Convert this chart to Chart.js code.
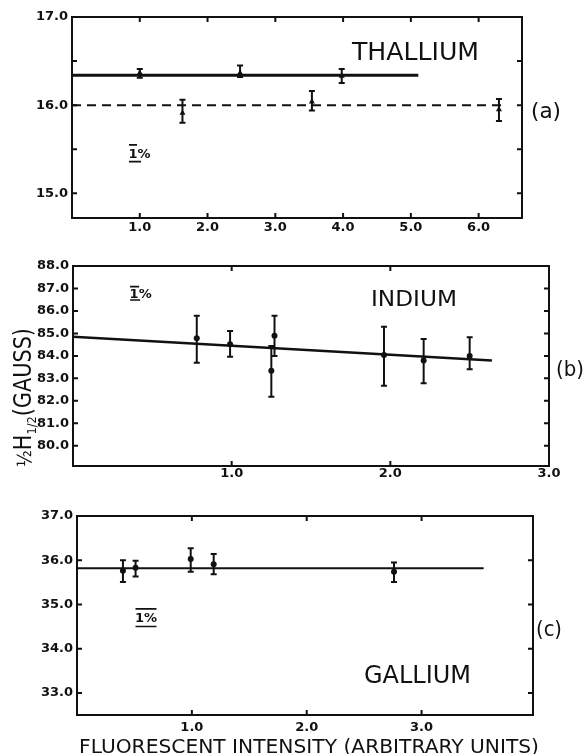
<!DOCTYPE html>
<html>
<head>
<meta charset="utf-8">
<script src="https://cdn.jsdelivr.net/npm/chart.js@4.4.0/dist/chart.umd.min.js"></script>
<style>
  html, body { margin: 0; padding: 0; background: #fff; }
  #wrap { position: relative; width: 586px; height: 754px; }
  canvas { position: absolute; left: 0; top: 0; }
</style>
</head>
<body>
<div id="wrap">
  <canvas id="chartA" width="586" height="754"></canvas>
  <canvas id="chartB" width="586" height="754"></canvas>
  <canvas id="chartC" width="586" height="754"></canvas>
</div>
<script>
// ---- (a) thallium ----
var tlXTicks = [1, 2, 3, 4, 5, 6];
var tlXLabels = ['1.0', '2.0', '3.0', '4.0', '5.0', '6.0'];
var tlYTicks = [15.0, 15.5, 16.0, 16.5, 17.0];
var tlYLabels = ['15.0', '', '16.0', '', '17.0'];
var tlUpperX = [1.0, 2.48, 3.98];
var tlUpperY = [16.365, 16.365, 16.33];
var tlUpperLo = [16.31, 16.32, 16.25];
var tlUpperHi = [16.41, 16.45, 16.41];
var tlLowerX = [1.63, 3.54, 6.30];
var tlLowerY = [15.91, 16.04, 15.95];
var tlLowerLo = [15.80, 15.94, 15.82];
var tlLowerHi = [16.06, 16.16, 16.07];
var tlUpperFitX = [0, 5.11];
var tlUpperFitY = [16.34, 16.34];
var tlLowerFitX = [0, 6.34];
var tlLowerFitY = [16.0, 16.0];

// ---- (b) indium ----
var inXTicks = [1, 2, 3];
var inXLabels = ['1.0', '2.0', '3.0'];
var inYTicks = [80, 81, 82, 83, 84, 85, 86, 87, 88];
var inYLabels = ['80.0', '81.0', '82.0', '83.0', '84.0', '85.0', '86.0', '87.0', '88.0'];
var inX = [0.78, 0.99, 1.25, 1.27, 1.96, 2.21, 2.50];
var inY = [84.78, 84.52, 83.34, 84.90, 84.04, 83.79, 83.99];
var inLo = [83.70, 83.96, 82.18, 83.99, 82.67, 82.78, 83.40];
var inHi = [85.79, 85.11, 84.44, 85.79, 85.30, 84.75, 84.83];
var inFitX = [0, 2.64];
var inFitY = [84.85, 83.79];

// ---- (c) gallium ----
var gaXTicks = [1, 2, 3];
var gaXLabels = ['1.0', '2.0', '3.0'];
var gaYTicks = [33, 34, 35, 36, 37];
var gaYLabels = ['33.0', '34.0', '35.0', '36.0', '37.0'];
var gaX = [0.40, 0.51, 0.99, 1.19, 2.76];
var gaY = [35.76, 35.83, 36.03, 35.91, 35.74];
var gaLo = [35.51, 35.63, 35.74, 35.68, 35.51];
var gaHi = [36.00, 35.99, 36.27, 36.14, 35.95];
var gaFitX = [0, 3.54];
var gaFitY = [35.82, 35.82];

// 1% scale marks (a, b, c)
var pctX = [0.90, 0.385, 0.544];
var pctLo = [15.36, 86.49, 34.50];
var pctHi = [15.55, 87.08, 34.90];

var INK = '#111';
var FONT = '"DejaVu Sans", "Liberation Sans", sans-serif';

function pts(xs, ys) {
  return xs.map(function (x, i) { return { x: x, y: ys[i] }; });
}

// text squeezed/stretched to the width it has in the figure
function fitText(ctx, text, cx, cy, w, size, weight) {
  ctx.font = (weight || 'normal') + ' ' + size + 'px ' + FONT;
  var m = ctx.measureText(text).width;
  ctx.save();
  ctx.translate(cx, cy + size * 0.365);
  ctx.scale(w / m, 1);
  ctx.textAlign = 'center';
  ctx.textBaseline = 'alphabetic';
  ctx.fillText(text, 0, 0);
  ctx.restore();
}

var errorBars = {
  id: 'errorBars',
  beforeDatasetsDraw: function (chart) {
    var ctx = chart.ctx, x = chart.scales.x, y = chart.scales.y;
    ctx.save();
    ctx.strokeStyle = INK;
    ctx.lineWidth = 2;
    chart.data.datasets.forEach(function (ds) {
      if (!ds.errLo) return;
      ds.data.forEach(function (p, j) {
        var px = x.getPixelForValue(p.x);
        var yl = y.getPixelForValue(ds.errLo[j]);
        var yh = y.getPixelForValue(ds.errHi[j]);
        ctx.beginPath();
        ctx.moveTo(px, yl); ctx.lineTo(px, yh);
        ctx.moveTo(px - 3, yl); ctx.lineTo(px + 3, yl);
        ctx.moveTo(px - 3, yh); ctx.lineTo(px + 3, yh);
        ctx.stroke();
      });
    });
    ctx.restore();
  }
};

var frame = {
  id: 'frame',
  afterDraw: function (chart, args, opts) {
    var ctx = chart.ctx, a = chart.chartArea, x = chart.scales.x, y = chart.scales.y;
    ctx.save();
    ctx.strokeStyle = INK;
    ctx.fillStyle = INK;
    ctx.lineWidth = 2;
    ctx.strokeRect(a.left, a.top, a.right - a.left, a.bottom - a.top);
    // inward ticks on all four sides
    ctx.beginPath();
    x.ticks.forEach(function (t) {
      var px = x.getPixelForValue(t.value);
      ctx.moveTo(px, a.bottom); ctx.lineTo(px, a.bottom - 5);
      ctx.moveTo(px, a.top); ctx.lineTo(px, a.top + 5);
    });
    y.ticks.forEach(function (t) {
      var py = y.getPixelForValue(t.value);
      ctx.moveTo(a.left, py); ctx.lineTo(a.left + 5, py);
      ctx.moveTo(a.right, py); ctx.lineTo(a.right - 5, py);
    });
    ctx.stroke();

    // 1% scale mark
    var p = opts.pct;
    if (p) {
      var px = x.getPixelForValue(p.x);
      var yl = y.getPixelForValue(p.lo), yh = y.getPixelForValue(p.hi);
      ctx.lineWidth = 1.6;
      ctx.beginPath();
      ctx.moveTo(px + p.over[0], yh); ctx.lineTo(px + p.over[1], yh);
      ctx.moveTo(px + p.under[0], yl); ctx.lineTo(px + p.under[1], yl);
      ctx.stroke();
      ctx.font = 'bold 13px ' + FONT;
      ctx.textAlign = 'left';
      ctx.textBaseline = 'alphabetic';
      ctx.fillText('1%', px - 4.5, (yl + yh) / 2 + 4.7);
    }

    (opts.texts || []).forEach(function (t) {
      fitText(ctx, t.text, t.cx, t.cy, t.w, t.size, t.weight);
    });
    if (opts.after) opts.after(ctx);
    ctx.restore();
  }
};

function makeChart(id, cfg) {
  var tickFont = { family: FONT, weight: 'bold', size: 13 };
  return new Chart(document.getElementById(id), {
    type: 'scatter',
    data: { datasets: cfg.datasets },
    plugins: [errorBars, frame],
    options: {
      responsive: false,
      animation: false,
      events: [],
      layout: { padding: cfg.padding },
      plugins: {
        legend: { display: false },
        tooltip: { enabled: false },
        frame: { pct: cfg.pct, texts: cfg.texts, after: cfg.after }
      },
      scales: {
        x: {
          type: 'linear',
          min: cfg.xMin, max: cfg.xMax,
          grid: { display: false, drawTicks: false },
          border: { display: false },
          afterBuildTicks: function (s) { s.ticks = cfg.xTicks.map(function (v) { return { value: v }; }); },
          afterFit: function (s) { s.height = 30; },
          ticks: {
            padding: cfg.xPad, color: INK, font: tickFont,
            maxRotation: 0, autoSkip: false,
            callback: function (v, i) { return cfg.xLabels[i]; }
          }
        },
        y: {
          type: 'linear',
          min: cfg.yMin, max: cfg.yMax,
          grid: { display: false, drawTicks: false },
          border: { display: false },
          afterBuildTicks: function (s) { s.ticks = cfg.yTicks.map(function (v) { return { value: v }; }); },
          afterFit: function (s) { s.width = cfg.yWidth; },
          ticks: {
            padding: 4, color: INK, font: tickFont, autoSkip: false,
            callback: function (v, i) { return cfg.yLabels[i]; }
          }
        }
      }
    }
  });
}

function fitLine(xs, ys, width, dash) {
  return {
    data: pts(xs, ys), showLine: true, pointRadius: 0,
    borderColor: INK, borderWidth: width, borderDash: dash || [], fill: false
  };
}

function points(xs, ys, lo, hi, style, r) {
  return {
    data: pts(xs, ys), errLo: lo, errHi: hi, showLine: false,
    pointStyle: style, pointRadius: r, backgroundColor: INK, borderColor: INK, borderWidth: 0
  };
}

// (a) chart area 72..522 x 17..218
makeChart('chartA', {
  xMin: 0, xMax: 6.64, yMin: 14.72, yMax: 17.0,
  xTicks: tlXTicks, xLabels: tlXLabels, yTicks: tlYTicks, yLabels: tlYLabels,
  yWidth: 72, xPad: 2,
  padding: { left: 0, right: 64, top: 17, bottom: 754 - 218 - 30 },
  datasets: [
    fitLine(tlUpperFitX, tlUpperFitY, 3),
    fitLine(tlLowerFitX, tlLowerFitY, 2, [9, 6]),
    points(tlUpperX, tlUpperY, tlUpperLo, tlUpperHi, 'triangle', 3.5),
    points(tlLowerX, tlLowerY, tlLowerLo, tlLowerHi, 'triangle', 3.5)
  ],
  pct: { x: pctX[0], lo: pctLo[0], hi: pctHi[0], over: [-4, 4], under: [-4, 8] },
  texts: [
    { text: 'THALLIUM', cx: 415.5, cy: 51, w: 127, size: 24 },
    { text: '(a)', cx: 546, cy: 110, w: 30, size: 22 }
  ]
});

// (b) chart area 73..549 x 266..466
makeChart('chartB', {
  xMin: 0, xMax: 3.0, yMin: 79.1, yMax: 88.0,
  xTicks: inXTicks, xLabels: inXLabels, yTicks: inYTicks, yLabels: inYLabels,
  yWidth: 73, xPad: 0,
  padding: { left: 0, right: 37, top: 266, bottom: 754 - 466 - 30 },
  datasets: [
    fitLine(inFitX, inFitY, 2.5),
    points(inX, inY, inLo, inHi, 'circle', 3)
  ],
  pct: { x: pctX[1], lo: pctLo[1], hi: pctHi[1], over: [-4, 5], under: [-4, 6] },
  texts: [
    { text: 'INDIUM', cx: 414, cy: 298, w: 86, size: 22 },
    { text: '(b)', cx: 570, cy: 367.5, w: 28, size: 22 }
  ],
  after: function (ctx) {
    // rotated y-axis title: ½H1/2 (GAUSS)
    var parts = [
      { t: '\u00BD', size: 20, dy: 0 },
      { t: 'H', size: 24, dy: 0 },
      { t: '1/2', size: 13, dy: 5 },
      { t: '(GAUSS)', size: 24, dy: 0 }
    ];
    var total = 0;
    parts.forEach(function (p) {
      ctx.font = p.size + 'px ' + FONT;
      p.w = ctx.measureText(p.t).width;
      total += p.w;
    });
    ctx.save();
    ctx.translate(31, 467);
    ctx.rotate(-Math.PI / 2);
    ctx.scale(139 / total, 1);
    ctx.textAlign = 'left';
    ctx.textBaseline = 'alphabetic';
    var cx = 0;
    parts.forEach(function (p) {
      ctx.font = p.size + 'px ' + FONT;
      ctx.fillText(p.t, cx, p.dy);
      cx += p.w;
    });
    ctx.restore();
  }
});

// (c) chart area 77..533 x 516..715
makeChart('chartC', {
  xMin: 0, xMax: 3.97, yMin: 32.5, yMax: 37.0,
  xTicks: gaXTicks, xLabels: gaXLabels, yTicks: gaYTicks, yLabels: gaYLabels,
  yWidth: 77, xPad: 5,
  padding: { left: 0, right: 53, top: 516, bottom: 754 - 715 - 30 },
  datasets: [
    fitLine(gaFitX, gaFitY, 2),
    points(gaX, gaY, gaLo, gaHi, 'circle', 3)
  ],
  pct: { x: pctX[2], lo: pctLo[2], hi: pctHi[2], over: [-4, 17], under: [-4, 17] },
  texts: [
    { text: 'GALLIUM', cx: 417.5, cy: 674.5, w: 107, size: 24 },
    { text: '(c)', cx: 549, cy: 628, w: 26, size: 22 },
    { text: 'FLUORESCENT INTENSITY (ARBITRARY UNITS)', cx: 309, cy: 746, w: 460, size: 19 }
  ]
});
</script>
</body>
</html>
